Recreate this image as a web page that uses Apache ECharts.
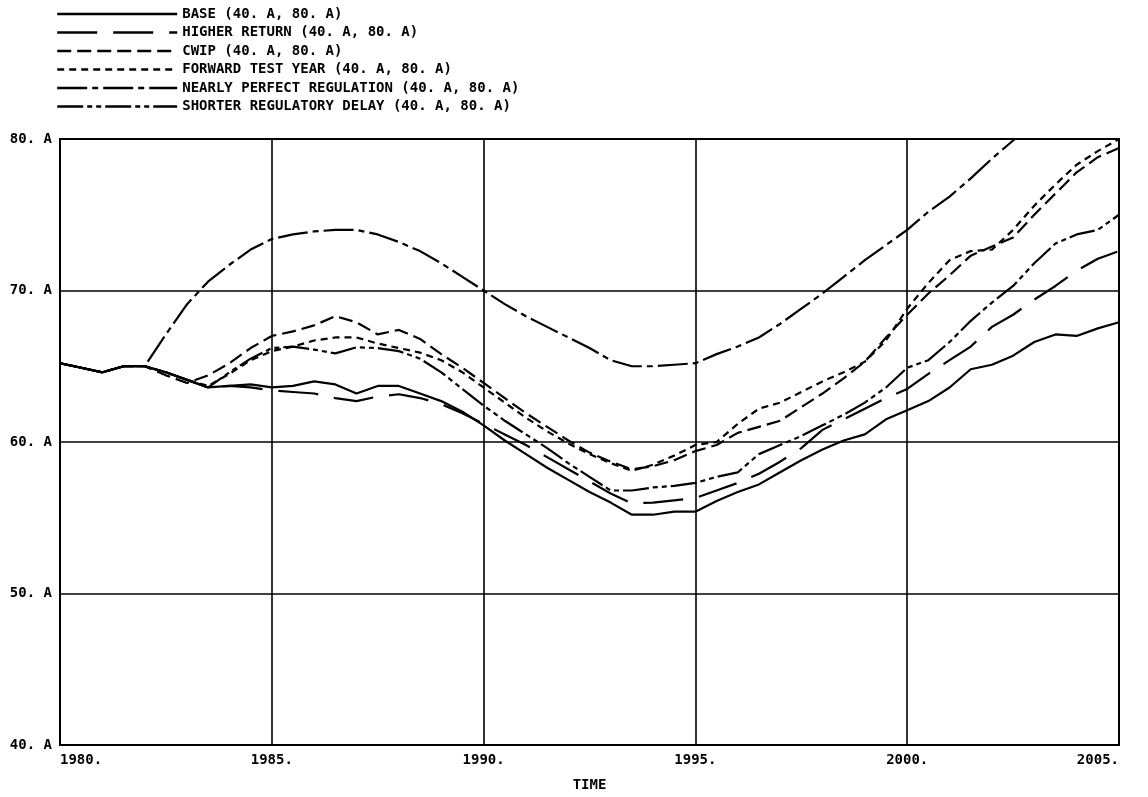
<!DOCTYPE html>
<html>
<head>
<meta charset="utf-8">
<script src="https://cdn.jsdelivr.net/npm/echarts@6/dist/echarts.min.js"></script>
<style>
  html, body { margin: 0; padding: 0; background: #ffffff; }
  #chart { width: 1148px; height: 797px; }
</style>
</head>
<body>
<div id="chart"></div>
<script>
// ---- data (half-year steps, 1980 .. 2005) ----
const YEARS = [1980,1980.5,1981,1981.5,1982,1982.5,1983,1983.5,1984,1984.5,
  1985,1985.5,1986,1986.5,1987,1987.5,1988,1988.5,1989,1989.5,
  1990,1990.5,1991,1991.5,1992,1992.5,1993,1993.5,1994,1994.5,
  1995,1995.5,1996,1996.5,1997,1997.5,1998,1998.5,1999,1999.5,
  2000,2000.5,2001,2001.5,2002,2002.5,2003,2003.5,2004,2004.5,2005];

const BASE = [65.2,64.9,64.6,65.0,65.0,64.6,64.1,63.6,63.7,63.8,
  63.6,63.7,64.0,63.8,63.2,63.7,63.7,63.2,62.7,62.0,
  61.1,60.1,59.2,58.3,57.5,56.7,56.0,55.2,55.2,55.4,
  55.4,56.1,56.7,57.2,58.0,58.8,59.5,60.1,60.5,61.5,
  62.1,62.7,63.6,64.8,65.1,65.7,66.6,67.1,67.0,67.5,67.9];

const HIGHER_RETURN = [65.2,64.9,64.6,65.0,65.0,64.6,64.1,63.6,63.7,63.6,
  63.4,63.3,63.2,62.9,62.7,63.0,63.15,62.9,62.5,61.9,
  61.2,60.5,59.8,59.0,58.2,57.4,56.6,55.95,56.0,56.15,
  56.3,56.8,57.3,57.9,58.7,59.6,60.8,61.5,62.2,62.9,
  63.5,64.5,65.4,66.3,67.6,68.4,69.4,70.3,71.3,72.1,72.6];

const CWIP = [65.2,64.9,64.6,65.0,65.0,64.4,63.9,64.4,65.2,66.2,
  67.0,67.3,67.7,68.3,67.9,67.1,67.4,66.8,65.8,64.9,
  63.9,62.9,61.9,61.0,60.1,59.3,58.7,58.2,58.4,58.8,
  59.4,59.8,60.6,61.0,61.4,62.3,63.2,64.2,65.3,66.9,
  68.4,69.8,71.0,72.3,72.9,73.5,75.0,76.4,77.8,78.8,79.4];

const FORWARD_TEST_YEAR = [65.2,64.9,64.6,65.0,65.0,64.6,64.1,63.7,64.5,65.4,
  66.0,66.3,66.7,66.9,66.9,66.5,66.2,65.9,65.4,64.6,
  63.6,62.6,61.6,60.7,59.9,59.2,58.6,58.1,58.5,59.1,
  59.8,60.0,61.2,62.2,62.6,63.3,64.0,64.6,65.3,66.7,
  68.8,70.5,72.0,72.6,72.7,74.0,75.6,77.0,78.3,79.2,80.0];

const NEARLY_PERFECT = [65.2,64.9,64.6,65.0,65.0,67.1,69.1,70.6,71.7,72.7,
  73.4,73.7,73.9,74.0,74.0,73.7,73.2,72.6,71.8,70.9,
  70.0,69.1,68.3,67.6,66.9,66.2,65.4,65.0,65.0,65.1,
  65.2,65.8,66.3,66.9,67.8,68.8,69.8,70.9,72.0,73.0,
  74.0,75.2,76.2,77.4,78.7,79.9,81.1,null,null,null,null];

const SHORTER_DELAY = [65.2,64.9,64.6,65.0,65.0,64.6,64.1,63.6,64.6,65.5,
  66.2,66.3,66.1,65.85,66.25,66.2,66.0,65.5,64.6,63.5,
  62.4,61.4,60.5,59.6,58.6,57.7,56.8,56.8,57.0,57.1,
  57.3,57.7,58.0,59.2,59.8,60.4,61.1,61.8,62.6,63.6,
  64.9,65.4,66.6,68.0,69.2,70.3,71.8,73.1,73.7,74.0,75.0];

const SERIES_NAMES = [
  'BASE (40. A, 80. A)',
  'HIGHER RETURN (40. A, 80. A)',
  'CWIP (40. A, 80. A)',
  'FORWARD TEST YEAR (40. A, 80. A)',
  'NEARLY PERFECT REGULATION (40. A, 80. A)',
  'SHORTER REGULATORY DELAY (40. A, 80. A)'
];
const SERIES_VALUES = [BASE, HIGHER_RETURN, CWIP, FORWARD_TEST_YEAR, NEARLY_PERFECT, SHORTER_DELAY];

const X_TICK_LABELS = {1980:'1980.',1985:'1985.',1990:'1990.',1995:'1995.',2000:'2000.',2005:'2005.'};
const Y_TICK_LABELS = {40:'40. A',50:'50. A',60:'60. A',70:'70. A',80:'80. A'};
const X_NAME = 'TIME';

// ---- styles ----
const DASHES = ['solid', [40, 16], [14, 6], [7, 5], [30, 5, 6, 5], [26, 4, 5, 4, 5, 4]];
const FONT = 'DejaVu Sans Mono';

const chart = echarts.init(document.getElementById('chart'), null, {renderer: 'canvas'});

const series = SERIES_NAMES.map((name, i) => ({
  name: name,
  type: 'line',
  data: YEARS.map((y, k) => [y, SERIES_VALUES[i][k]]),
  symbol: 'none',
  connectNulls: false,
  clip: true,
  lineStyle: { color: '#000', width: 2.2, type: DASHES[i], cap: 'butt' },
  itemStyle: { color: '#000' },
  animation: false
}));

chart.setOption({
  backgroundColor: '#ffffff',
  animation: false,
  legend: {
    orient: 'vertical',
    left: 56,
    top: 7,
    itemWidth: 120,
    itemHeight: 14,
    itemGap: 4.5,
    padding: 0,
    selectedMode: false,
    data: SERIES_NAMES,
    textStyle: { fontFamily: FONT, fontSize: 14, fontWeight: 'bold', color: '#000', lineHeight: 14 },
    itemStyle: { opacity: 0, color: 'transparent', borderWidth: 0 },
    lineStyle: { width: 2.4, opacity: 1 }
  },
  grid: {
    left: 60, right: 29, top: 139, bottom: 46,
    show: true, borderColor: '#000', borderWidth: 2, backgroundColor: 'transparent'
  },
  xAxis: {
    type: 'value',
    min: 1980, max: 2005, interval: 5,
    name: X_NAME,
    nameLocation: 'middle',
    nameGap: 33,
    nameTextStyle: { fontFamily: FONT, fontSize: 14, fontWeight: 'bold', color: '#000' },
    axisLine: { show: true, lineStyle: { color: '#000', width: 2 } },
    axisTick: { show: false },
    axisLabel: {
      fontFamily: FONT, fontSize: 14, fontWeight: 'bold', color: '#000', margin: 8,
      alignMinLabel: 'left', alignMaxLabel: 'right',
      formatter: v => X_TICK_LABELS[v] || ''
    },
    splitLine: { show: true, lineStyle: { color: '#000', width: 1.6 } }
  },
  yAxis: {
    type: 'value',
    min: 40, max: 80, interval: 10,
    axisLine: { show: true, lineStyle: { color: '#000', width: 2 } },
    axisTick: { show: false },
    axisLabel: {
      fontFamily: FONT, fontSize: 14, fontWeight: 'bold', color: '#000', margin: 8,
      formatter: v => Y_TICK_LABELS[v] || ''
    },
    splitLine: { show: true, lineStyle: { color: '#000', width: 1.6 } }
  },
  series: series
});
</script>
</body>
</html>
